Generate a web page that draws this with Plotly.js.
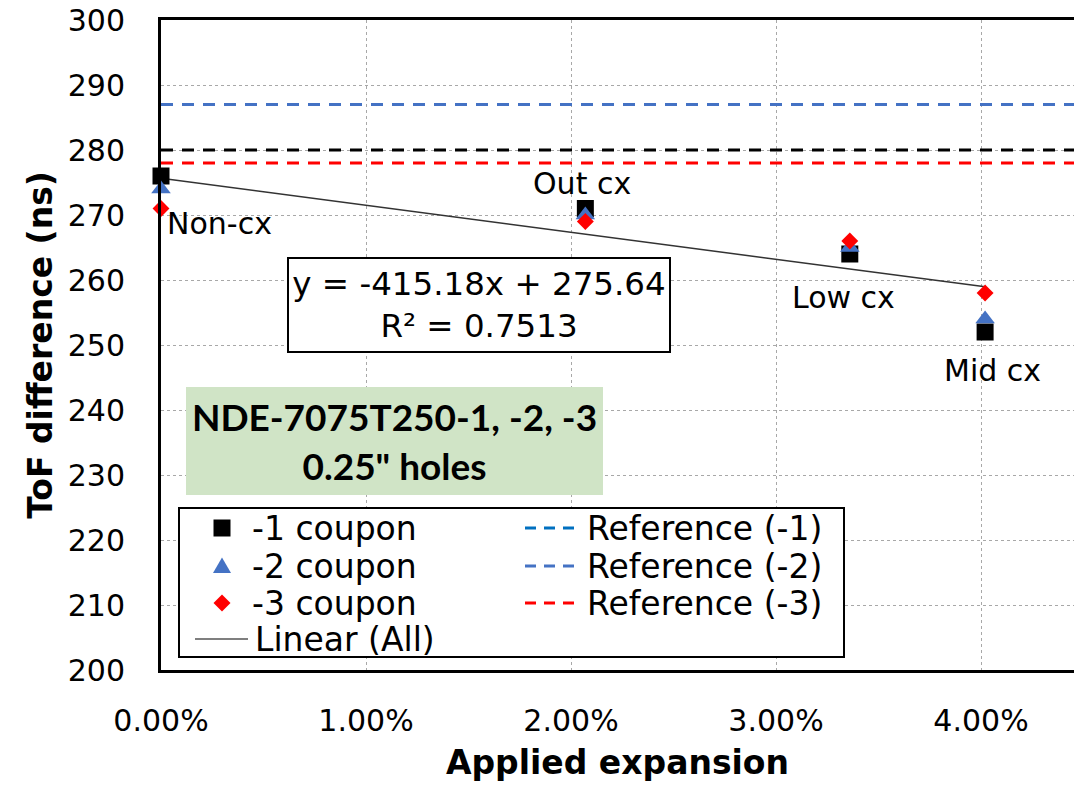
<!DOCTYPE html>
<html>
<head>
<meta charset="utf-8">
<script src="https://cdn.plot.ly/plotly-3.0.1.min.js"></script>
<style>html,body{margin:0;padding:0;background:#fff;}#chart{width:1074px;height:786px;}</style>
</head>
<body>
<div id="chart"></div>
<script>
// ---- data ----
const expansion = [0, 0.0207, 0.0336, 0.0402];          // applied expansion (fraction)
const coupon1 = [276, 271, 264, 252];                    // -1 coupon ToF difference (ns)
const coupon2 = [274, 270, 265, 254];                    // -2 coupon
const coupon3 = [271, 269, 266, 258];                    // -3 coupon
const seriesNames = ['-1 coupon', '-2 coupon', '-3 coupon'];
const refNames = ['Reference (-1)', 'Reference (-2)', 'Reference (-3)'];
const refValues = [280, 287, 278];                       // reference ToF levels (ns)
const trendName = 'Linear (All)';
const trendSlope = -415.18;
const trendIntercept = 275.64;
const trendR2 = 0.7513;
const pointLabels = ['Non-cx', 'Out cx', 'Low cx', 'Mid cx'];
const yTicks = [200, 210, 220, 230, 240, 250, 260, 270, 280, 290, 300];
const xTicks = [0, 0.01, 0.02, 0.03, 0.04];
const boxText = ['NDE-7075T250-1, -2, -3', '0.25" holes'];

// ---- styles ----
const M = {l: 161, r: 0, t: 20, b: 116};
const FIG_W = 1074, FIG_H = 786;
const W = FIG_W - M.l - M.r, H = FIG_H - M.t - M.b;
const PX = x => (x - M.l) / W;
const PY = y => (FIG_H - M.b - y) / H;
const markerColors = ['#000000', '#4472C4', '#FF0000'];
const markerSymbols = ['square', 'triangle-up', 'diamond'];
const markerSizes = [17, 17, 13];
const refPlotColors = ['#000000', '#4472C4', '#FF0000'];
const refLegendColors = ['#0070C0', '#4472C4', '#FF0000'];
const FONT = 'DejaVu Sans, Arial, sans-serif';
const BOLD = 'DejaVu Sans, Arial, sans-serif';

const traces = [];
// reference lines
refValues.forEach((v, i) => {
  traces.push({
    type: 'scatter', mode: 'lines', name: refNames[i], showlegend: false,
    x: [0, 0.05], y: [v, v],
    line: {color: refPlotColors[i], width: 3, dash: '12px,9px'},
    hoverinfo: 'skip'
  });
});
// trendline from the displayed equation
const trendX = [expansion[0], expansion[expansion.length - 1]];
traces.push({
  type: 'scatter', mode: 'lines', name: trendName, showlegend: false,
  x: trendX, y: trendX.map(x => trendSlope * x + trendIntercept),
  line: {color: '#333333', width: 1.5}
});
// coupons
[coupon1, coupon2, coupon3].forEach((ys, i) => {
  traces.push({
    type: 'scatter', mode: 'markers', name: seriesNames[i], showlegend: false,
    x: expansion, y: ys, cliponaxis: false,
    marker: {color: markerColors[i], symbol: markerSymbols[i], size: markerSizes[i], line: {width: 0}}
  });
});

// point labels (offset in px from the -1 coupon point)
const labelShift = [[58, -47], [-3, 25], [-6, -43], [7, -38]];
const annotations = pointLabels.map((t, i) => ({
  x: expansion[i], y: coupon1[i], xref: 'x', yref: 'y',
  xshift: labelShift[i][0], yshift: labelShift[i][1],
  text: t, showarrow: false, xanchor: 'center', yanchor: 'middle',
  font: {family: FONT, size: 30, color: '#000'}
}));

// equation box
annotations.push({
  xref: 'paper', yref: 'paper', x: PX(478.5), y: PY(304.5), xanchor: 'center', yanchor: 'middle',
  text: 'y = ' + trendSlope.toFixed(2) + 'x + ' + trendIntercept.toFixed(2) + '<br>R² = ' + trendR2.toFixed(4),
  showarrow: false, bgcolor: '#ffffff', bordercolor: '#000000', borderwidth: 2, borderpad: 0,
  width: 380, height: 92, align: 'center',
  font: {family: FONT, size: 32.5, color: '#000'}
});
// green info box
annotations.push({
  xref: 'paper', yref: 'paper', x: PX(394.5), y: PY(441), xanchor: 'center', yanchor: 'middle',
  text: '<b>' + boxText[0] + '</b><br><b>' + boxText[1] + '</b>',
  showarrow: false, bgcolor: '#d0e4c6', borderwidth: 0, borderpad: 0,
  width: 417, height: 108, align: 'center',
  font: {family: 'Lato, sans-serif', size: 37, color: '#000'}
});

// ---- manual legend (box, keys, texts) ----
const shapes = [];
shapes.push({type: 'rect', xref: 'paper', yref: 'paper', layer: 'above',
  x0: PX(179), x1: PX(844), y0: PY(657), y1: PY(508),
  line: {color: '#000', width: 2}, fillcolor: '#ffffff'});
const rowY = [528, 566, 603, 639];
const keyPaths = [
  'M-8.5,-8.5 L8.5,-8.5 L8.5,8.5 L-8.5,8.5 Z',
  'M-9,-7 L9,-7 L0,8.5 Z',
  'M0,8.5 L8.5,0 L0,-8.5 L-8.5,0 Z'
];
seriesNames.forEach((n, i) => {
  shapes.push({type: 'path', xref: 'paper', yref: 'paper', layer: 'above',
    xsizemode: 'pixel', ysizemode: 'pixel', xanchor: PX(222), yanchor: PY(rowY[i]),
    path: keyPaths[i], fillcolor: markerColors[i], line: {width: 0}});
  annotations.push({xref: 'paper', yref: 'paper', x: PX(251), y: PY(rowY[i]),
    xanchor: 'left', yanchor: 'middle', text: n, showarrow: false, borderpad: 0,
    font: {family: FONT, size: 33, color: '#000'}});
});
shapes.push({type: 'line', xref: 'paper', yref: 'paper', layer: 'above',
  x0: PX(195), x1: PX(248), y0: PY(rowY[3]), y1: PY(rowY[3]), line: {color: '#000', width: 1.2}});
annotations.push({xref: 'paper', yref: 'paper', x: PX(254), y: PY(rowY[3]),
  xanchor: 'left', yanchor: 'middle', text: trendName, showarrow: false, borderpad: 0,
  font: {family: FONT, size: 33, color: '#000'}});
refNames.forEach((n, i) => {
  shapes.push({type: 'line', xref: 'paper', yref: 'paper', layer: 'above',
    x0: PX(525), x1: PX(581), y0: PY(rowY[i]), y1: PY(rowY[i]),
    line: {color: refLegendColors[i], width: 3, dash: '11px,8px'}});
  annotations.push({xref: 'paper', yref: 'paper', x: PX(586), y: PY(rowY[i]),
    xanchor: 'left', yanchor: 'middle', text: n, showarrow: false, borderpad: 0,
    font: {family: FONT, size: 33, color: '#000'}});
});

const layout = {
  width: FIG_W, height: FIG_H,
  margin: M,
  paper_bgcolor: '#ffffff', plot_bgcolor: '#ffffff',
  showlegend: false,
  font: {family: FONT, color: '#000'},
  xaxis: {
    range: [0, (FIG_W - M.l) / 205 / 100],
    tickvals: xTicks, tickformat: '.2%',
    showgrid: true, gridcolor: '#a8a8a8', gridwidth: 1, griddash: '3px,3px',
    zeroline: false, showline: true, linecolor: '#000', linewidth: 3, mirror: true,
    ticks: 'outside', ticklen: 0, ticklabelstandoff: 22,
    tickfont: {family: FONT, size: 30, color: '#000'},
    title: {text: '<b>Applied expansion</b>', standoff: 14, font: {family: BOLD, size: 33, color: '#000'}}
  },
  yaxis: {
    range: [200, 300], tickvals: yTicks,
    showgrid: true, gridcolor: '#a8a8a8', gridwidth: 1, griddash: '3px,3px',
    zeroline: false, showline: true, linecolor: '#000', linewidth: 3, mirror: false,
    ticks: 'outside', ticklen: 0, ticklabelstandoff: 27,
    tickfont: {family: FONT, size: 30, color: '#000'},
    title: {text: '<b>ToF difference (ns)</b>', standoff: 6, font: {family: BOLD, size: 33, color: '#000'}}
  },
  annotations: annotations,
  shapes: shapes
};

Plotly.newPlot('chart', traces, layout, {displayModeBar: false, staticPlot: true});
</script>
</body>
</html>
